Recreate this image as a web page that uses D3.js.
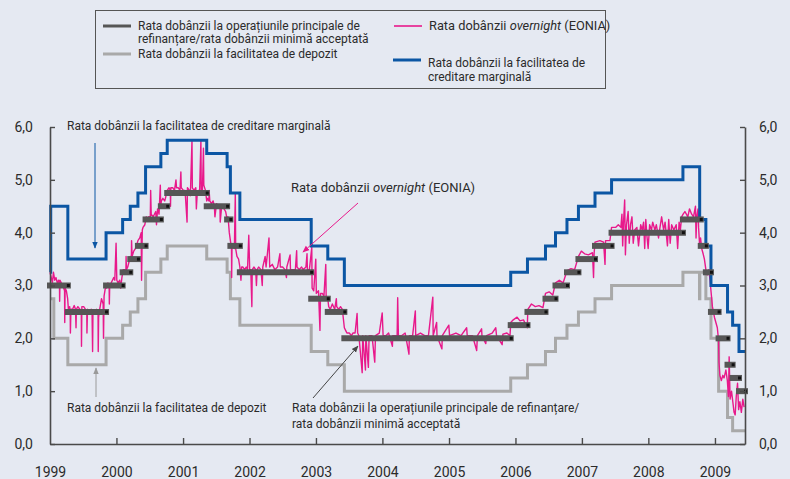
<!DOCTYPE html>
<html lang="ro">
<head>
<meta charset="utf-8">
<title>Rate ale dobânzii BCE</title>
<style>
  body { margin: 0; background: #e5e9f2; font-family: Roboto, "Noto Sans", sans-serif; }
  svg text { fill: #2b2b2b; }
</style>
<script src="https://d3js.org/d3.v7.min.js"></script>
</head>
<body>
<div id="chart"></div>
<script>
// rata dobanzii la operatiunile principale de refinantare (de la data, rata)
const mroRate = [
  ["1999-01-01", 3.00], ["1999-04-09", 2.50], ["1999-11-05", 3.00], ["2000-02-04", 3.25],
  ["2000-03-17", 3.50], ["2000-04-28", 3.75], ["2000-06-09", 4.25], ["2000-09-01", 4.50],
  ["2000-10-06", 4.75], ["2001-05-11", 4.50], ["2001-08-31", 4.25], ["2001-09-18", 3.75],
  ["2001-11-09", 3.25], ["2002-12-06", 2.75], ["2003-03-07", 2.50], ["2003-06-06", 2.00],
  ["2005-12-06", 2.25], ["2006-03-08", 2.50], ["2006-06-15", 2.75], ["2006-08-09", 3.00],
  ["2006-10-11", 3.25], ["2006-12-13", 3.50], ["2007-03-14", 3.75], ["2007-06-13", 4.00],
  ["2008-07-09", 4.25], ["2008-10-15", 3.75], ["2008-11-12", 3.25], ["2008-12-10", 2.50],
  ["2009-01-21", 2.00], ["2009-03-11", 1.50], ["2009-04-08", 1.25], ["2009-05-13", 1.00]
];

// facilitatea de depozit
const depositRate = [
  ["1999-01-01", 2.75], ["1999-01-22", 2.00], ["1999-04-09", 1.50], ["1999-11-05", 2.00],
  ["2000-02-04", 2.25], ["2000-03-17", 2.50], ["2000-04-28", 2.75], ["2000-06-09", 3.25],
  ["2000-09-01", 3.50], ["2000-10-06", 3.75], ["2001-05-11", 3.50], ["2001-08-31", 3.25],
  ["2001-09-18", 2.75], ["2001-11-09", 2.25], ["2002-12-06", 1.75], ["2003-03-07", 1.50],
  ["2003-06-06", 1.00], ["2005-12-06", 1.25], ["2006-03-08", 1.50], ["2006-06-15", 1.75],
  ["2006-08-09", 2.00], ["2006-10-11", 2.25], ["2006-12-13", 2.50], ["2007-03-14", 2.75],
  ["2007-06-13", 3.00], ["2008-07-09", 3.25], ["2008-10-08", 2.75], ["2008-10-10", 3.25],
  ["2008-11-12", 2.75], ["2008-12-10", 2.00], ["2009-01-21", 1.00], ["2009-03-11", 0.50],
  ["2009-04-08", 0.25]
];

// facilitatea de creditare marginala
const marginalRate = [
  ["1999-01-01", 3.25], ["1999-01-05", 4.50], ["1999-04-09", 3.50], ["1999-11-05", 4.00],
  ["2000-02-04", 4.25], ["2000-03-17", 4.50], ["2000-04-28", 4.75], ["2000-06-09", 5.25],
  ["2000-09-01", 5.50], ["2000-10-06", 5.75], ["2001-05-11", 5.50], ["2001-08-31", 5.25],
  ["2001-09-18", 4.75], ["2001-11-09", 4.25], ["2002-12-06", 3.75], ["2003-03-07", 3.50],
  ["2003-06-06", 3.00], ["2005-12-06", 3.25], ["2006-03-08", 3.50], ["2006-06-15", 3.75],
  ["2006-08-09", 4.00], ["2006-10-11", 4.25], ["2006-12-13", 4.50], ["2007-03-14", 4.75],
  ["2007-06-13", 5.00], ["2008-07-09", 5.25], ["2008-10-09", 4.25], ["2008-11-12", 3.75],
  ["2008-12-10", 3.00], ["2009-03-11", 2.50], ["2009-04-08", 2.25], ["2009-05-13", 1.75]
];

// EONIA
const eonia = [
  ["1999-01-01", 3.25], ["1999-01-08", 3.15], ["1999-01-14", 3.05], ["1999-01-20", 3.25], ["1999-01-27", 3.10],
  ["1999-02-03", 3.15], ["1999-02-10", 3.05], ["1999-02-17", 3.10], ["1999-02-22", 3.00], ["1999-02-23", 2.70],
  ["1999-02-25", 3.10], ["1999-03-04", 3.05], ["1999-03-11", 3.00], ["1999-03-17", 2.95], ["1999-03-22", 2.90],
  ["1999-03-23", 2.30], ["1999-03-25", 2.95], ["1999-04-01", 2.90], ["1999-04-08", 2.75], ["1999-04-12", 2.55],
  ["1999-04-19", 2.60], ["1999-04-22", 2.50], ["1999-04-23", 2.10], ["1999-04-26", 2.55], ["1999-05-05", 2.55],
  ["1999-05-14", 2.62], ["1999-05-21", 2.55], ["1999-05-24", 2.20], ["1999-05-26", 2.55], ["1999-06-03", 2.60],
  ["1999-06-14", 2.55], ["1999-06-22", 2.50], ["1999-06-23", 1.85], ["1999-06-25", 2.60], ["1999-07-05", 2.60],
  ["1999-07-15", 2.55], ["1999-07-22", 2.50], ["1999-07-23", 2.10], ["1999-07-26", 2.55], ["1999-08-05", 2.50],
  ["1999-08-16", 2.55], ["1999-08-20", 2.50], ["1999-08-23", 1.75], ["1999-08-25", 2.50], ["1999-09-03", 2.50],
  ["1999-09-13", 2.55], ["1999-09-22", 2.45], ["1999-09-23", 1.75], ["1999-09-25", 2.40], ["1999-10-01", 2.55],
  ["1999-10-11", 2.75], ["1999-10-20", 2.65], ["1999-10-22", 2.00], ["1999-10-25", 2.80], ["1999-11-01", 2.95],
  ["1999-11-08", 2.95], ["1999-11-15", 3.05], ["1999-11-22", 2.95], ["1999-11-23", 2.65], ["1999-11-25", 3.00],
  ["1999-12-03", 3.05], ["1999-12-10", 3.10], ["1999-12-17", 3.15], ["1999-12-23", 3.10], ["1999-12-30", 3.80],
  ["2000-01-03", 3.10], ["2000-01-10", 3.05], ["2000-01-19", 3.10], ["2000-01-24", 2.95], ["2000-01-31", 3.15],
  ["2000-02-07", 3.30], ["2000-02-15", 3.30], ["2000-02-22", 3.25], ["2000-02-23", 3.55], ["2000-02-25", 3.30],
  ["2000-03-03", 3.35], ["2000-03-10", 3.45], ["2000-03-17", 3.55], ["2000-03-23", 3.50], ["2000-03-24", 3.85],
  ["2000-03-27", 3.55], ["2000-04-05", 3.65], ["2000-04-14", 3.70], ["2000-04-20", 3.75], ["2000-04-28", 3.85],
  ["2000-05-08", 3.90], ["2000-05-16", 4.00], ["2000-05-18", 3.10], ["2000-05-22", 4.05], ["2000-05-26", 4.10],
  ["2000-06-05", 4.15], ["2000-06-13", 4.30], ["2000-06-21", 4.25], ["2000-06-26", 4.30], ["2000-07-05", 4.30],
  ["2000-07-07", 4.80], ["2000-07-10", 4.35], ["2000-07-21", 4.30], ["2000-08-04", 4.40], ["2000-08-08", 4.15],
  ["2000-08-14", 4.45], ["2000-08-22", 4.35], ["2000-08-29", 4.90], ["2000-08-31", 4.50], ["2000-09-04", 4.60],
  ["2000-09-12", 4.65], ["2000-09-22", 4.60], ["2000-09-26", 4.65], ["2000-10-06", 4.80], ["2000-10-16", 4.85],
  ["2000-10-23", 4.80], ["2000-10-24", 4.50], ["2000-10-26", 4.85], ["2000-11-06", 4.85], ["2000-11-15", 4.80],
  ["2000-11-23", 5.00], ["2000-11-26", 4.85], ["2000-12-06", 4.85], ["2000-12-15", 4.80], ["2000-12-20", 5.15],
  ["2000-12-22", 4.85], ["2001-01-03", 4.80], ["2001-01-12", 4.80], ["2001-01-23", 4.20], ["2001-01-25", 4.85],
  ["2001-02-05", 4.80], ["2001-02-10", 4.70], ["2001-02-19", 5.75], ["2001-02-21", 4.85], ["2001-03-02", 4.80],
  ["2001-03-12", 4.85], ["2001-03-15", 4.45], ["2001-03-20", 4.75], ["2001-03-26", 4.80], ["2001-04-02", 4.80],
  ["2001-04-09", 5.75], ["2001-04-11", 4.80], ["2001-04-17", 4.75], ["2001-04-23", 5.60], ["2001-04-25", 4.90],
  ["2001-05-04", 4.80], ["2001-05-11", 4.60], ["2001-05-15", 4.65], ["2001-05-23", 4.60], ["2001-05-24", 4.80],
  ["2001-05-28", 4.60], ["2001-06-06", 4.55], ["2001-06-15", 4.60], ["2001-06-22", 4.50], ["2001-06-25", 4.30],
  ["2001-07-04", 4.55], ["2001-07-13", 4.50], ["2001-07-23", 4.45], ["2001-07-24", 4.20], ["2001-08-01", 4.50],
  ["2001-08-14", 4.45], ["2001-08-23", 4.40], ["2001-08-31", 4.25], ["2001-09-05", 4.30], ["2001-09-12", 4.00],
  ["2001-09-18", 3.85], ["2001-09-24", 3.70], ["2001-09-25", 3.15], ["2001-09-27", 3.75], ["2001-10-10", 3.70],
  ["2001-10-15", 4.75], ["2001-10-17", 3.70], ["2001-10-24", 3.55], ["2001-11-02", 3.50], ["2001-11-09", 3.35],
  ["2001-11-15", 3.10], ["2001-11-19", 3.35], ["2001-11-26", 3.35], ["2001-12-05", 3.30], ["2001-12-14", 3.35],
  ["2001-12-21", 3.30], ["2001-12-28", 3.95], ["2002-01-02", 3.30], ["2002-01-08", 3.30], ["2002-01-14", 2.60],
  ["2002-01-16", 3.30], ["2002-01-25", 3.35], ["2002-02-04", 3.30], ["2002-02-08", 3.00], ["2002-02-12", 3.30],
  ["2002-02-20", 3.35], ["2002-03-05", 3.30], ["2002-03-12", 3.00], ["2002-03-15", 3.35], ["2002-03-28", 3.55],
  ["2002-04-02", 3.35], ["2002-04-18", 3.90], ["2002-04-22", 3.35], ["2002-05-06", 3.40], ["2002-05-20", 3.30],
  ["2002-06-04", 3.35], ["2002-06-17", 3.60], ["2002-06-19", 3.35], ["2002-07-02", 3.35], ["2002-07-15", 3.30],
  ["2002-07-23", 3.15], ["2002-07-25", 3.35], ["2002-08-12", 3.58], ["2002-08-14", 3.30], ["2002-09-10", 3.30],
  ["2002-09-17", 3.66], ["2002-09-19", 3.35], ["2002-10-01", 3.30], ["2002-10-14", 3.35], ["2002-10-23", 3.30],
  ["2002-11-07", 3.35], ["2002-11-13", 3.60], ["2002-11-15", 3.30], ["2002-11-26", 3.30], ["2002-12-09", 3.72],
  ["2002-12-11", 2.95], ["2002-12-20", 2.90], ["2002-12-31", 3.50], ["2003-01-03", 2.85], ["2003-01-15", 2.90],
  ["2003-01-23", 2.15], ["2003-01-26", 2.85], ["2003-02-05", 2.85], ["2003-02-14", 2.80], ["2003-02-24", 3.40],
  ["2003-02-26", 2.80], ["2003-03-07", 2.75], ["2003-03-12", 2.60], ["2003-03-21", 2.55], ["2003-04-01", 2.65],
  ["2003-04-14", 2.55], ["2003-04-23", 2.75], ["2003-04-25", 2.60], ["2003-05-06", 2.55], ["2003-05-16", 2.60],
  ["2003-05-26", 2.55], ["2003-06-06", 2.20], ["2003-06-13", 2.15], ["2003-06-20", 2.10], ["2003-07-03", 2.10],
  ["2003-07-15", 2.05], ["2003-07-23", 2.10], ["2003-08-04", 2.10], ["2003-08-15", 2.47], ["2003-08-18", 2.10],
  ["2003-08-25", 2.05], ["2003-09-12", 1.35], ["2003-09-15", 2.05], ["2003-09-30", 1.40], ["2003-10-02", 2.05],
  ["2003-10-16", 1.45], ["2003-10-20", 2.05], ["2003-11-05", 2.05], ["2003-11-20", 1.55], ["2003-11-24", 2.05],
  ["2003-12-15", 2.10], ["2003-12-31", 2.48], ["2004-01-05", 2.05], ["2004-01-20", 2.05], ["2004-02-04", 2.10],
  ["2004-02-25", 1.85], ["2004-02-27", 2.05], ["2004-03-22", 2.05], ["2004-03-25", 2.77], ["2004-03-29", 2.05],
  ["2004-04-15", 2.05], ["2004-05-05", 2.10], ["2004-05-26", 1.70], ["2004-05-28", 2.05], ["2004-06-15", 2.05],
  ["2004-06-30", 2.52], ["2004-07-02", 2.05], ["2004-07-28", 2.10], ["2004-08-20", 2.05], ["2004-09-10", 2.05],
  ["2004-10-04", 2.78], ["2004-10-06", 2.05], ["2004-10-25", 2.30], ["2004-10-27", 2.05], ["2004-11-23", 1.80],
  ["2004-11-25", 2.05], ["2004-12-31", 2.25], ["2005-01-04", 2.05], ["2005-02-08", 2.10], ["2005-03-08", 2.05],
  ["2005-04-08", 2.20], ["2005-04-11", 2.05], ["2005-05-10", 2.05], ["2005-06-02", 1.77], ["2005-06-06", 2.05],
  ["2005-06-29", 2.18], ["2005-07-01", 2.05], ["2005-07-22", 1.90], ["2005-07-26", 2.05], ["2005-08-26", 2.10],
  ["2005-09-15", 2.20], ["2005-09-19", 2.05], ["2005-10-20", 1.88], ["2005-10-24", 2.08], ["2005-11-15", 2.10],
  ["2005-12-02", 2.05], ["2005-12-06", 2.30], ["2005-12-20", 2.35], ["2006-01-10", 2.40], ["2006-01-26", 2.33],
  ["2006-02-14", 2.35], ["2006-03-07", 2.20], ["2006-03-10", 2.55], ["2006-03-30", 2.65], ["2006-04-20", 2.60],
  ["2006-05-10", 2.62], ["2006-06-01", 2.58], ["2006-06-15", 2.85], ["2006-07-05", 2.88], ["2006-07-25", 2.82],
  ["2006-08-09", 3.05], ["2006-08-30", 3.10], ["2006-09-20", 3.05], ["2006-10-11", 3.28], ["2006-11-02", 3.32],
  ["2006-11-22", 3.30], ["2006-12-13", 3.55], ["2006-12-29", 3.65], ["2007-01-16", 3.60], ["2007-02-06", 3.58],
  ["2007-02-28", 3.62], ["2007-03-06", 3.15], ["2007-03-09", 3.60], ["2007-03-14", 3.82], ["2007-04-10", 3.85],
  ["2007-04-30", 3.82], ["2007-05-08", 3.40], ["2007-05-11", 3.85], ["2007-06-04", 3.85], ["2007-06-13", 4.10],
  ["2007-07-05", 4.10], ["2007-07-20", 4.15], ["2007-08-03", 4.10], ["2007-08-09", 4.35], ["2007-08-13", 3.75],
  ["2007-08-17", 4.15], ["2007-08-24", 4.62], ["2007-08-28", 3.58], ["2007-09-03", 4.15], ["2007-09-12", 4.40],
  ["2007-09-18", 3.80], ["2007-09-25", 4.15], ["2007-10-03", 4.30], ["2007-10-10", 3.80], ["2007-10-18", 4.05],
  ["2007-10-30", 4.10], ["2007-11-08", 3.75], ["2007-11-20", 4.15], ["2007-11-28", 4.05], ["2007-12-06", 4.20],
  ["2007-12-12", 3.70], ["2007-12-18", 4.25], ["2007-12-24", 3.95], ["2007-12-31", 3.70], ["2008-01-08", 4.15],
  ["2008-01-18", 4.05], ["2008-01-25", 4.20], ["2008-02-06", 4.05], ["2008-02-14", 4.15], ["2008-02-26", 3.90],
  ["2008-03-05", 4.10], ["2008-03-14", 4.30], ["2008-03-25", 4.05], ["2008-04-02", 4.20], ["2008-04-15", 3.75],
  ["2008-04-22", 4.25], ["2008-04-30", 3.80], ["2008-05-08", 4.15], ["2008-05-20", 4.05], ["2008-06-02", 4.15],
  ["2008-06-10", 3.70], ["2008-06-18", 4.20], ["2008-06-25", 4.05], ["2008-07-02", 4.30], ["2008-07-10", 4.35],
  ["2008-07-20", 4.40], ["2008-08-05", 4.30], ["2008-08-14", 4.45], ["2008-08-26", 4.35], ["2008-09-05", 4.30],
  ["2008-09-16", 4.50], ["2008-09-19", 3.90], ["2008-09-23", 4.30], ["2008-09-30", 4.45], ["2008-10-03", 4.10],
  ["2008-10-08", 3.80], ["2008-10-14", 3.90], ["2008-10-20", 3.70], ["2008-10-28", 3.60], ["2008-11-04", 3.50],
  ["2008-11-12", 3.30], ["2008-11-20", 3.20], ["2008-11-28", 3.30], ["2008-12-05", 3.10], ["2008-12-10", 2.90],
  ["2008-12-18", 2.60], ["2008-12-29", 2.40], ["2009-01-06", 2.30], ["2009-01-14", 2.20], ["2009-01-21", 1.95],
  ["2009-01-23", 1.55], ["2009-01-28", 1.30], ["2009-02-05", 1.20], ["2009-02-13", 1.30], ["2009-02-20", 1.25],
  ["2009-03-02", 1.40], ["2009-03-10", 1.20], ["2009-03-16", 0.90], ["2009-03-20", 1.65], ["2009-03-25", 0.85],
  ["2009-04-02", 1.00], ["2009-04-09", 0.80], ["2009-04-16", 0.60], ["2009-04-22", 0.55], ["2009-04-28", 0.90],
  ["2009-05-05", 1.15], ["2009-05-11", 0.65], ["2009-05-18", 0.80], ["2009-05-26", 0.60], ["2009-06-03", 0.85],
  ["2009-06-10", 0.70]
];

const startDate = "1999-01-01";
const endDate = "2009-06-15";
const yTicks = [0, 1, 2, 3, 4, 5, 6];
const yearTicks = [1999, 2000, 2001, 2002, 2003, 2004, 2005, 2006, 2007, 2008, 2009];

const width = 790, height = 479;
const margin = {top: 127, right: 45, bottom: 35, left: 50};
const parse = d3.timeParse("%Y-%m-%d");
const fmt = v => d3.format(".1f")(v).replace(".", ",");

const svg = d3.select("#chart").append("svg")
    .attr("width", width)
    .attr("height", height);

svg.append("rect").attr("width", width).attr("height", height).attr("fill", "#e5e9f2");

const x = d3.scaleTime()
    .domain([parse(startDate), parse(endDate)])
    .range([margin.left, width - margin.right]);
const y = d3.scaleLinear()
    .domain([0, 6])
    .range([height - margin.bottom, margin.top]);

// step series extended to the end of the axis
function steps(arr) {
    const pts = arr.map(d => [parse(d[0]), d[1]]);
    pts.push([parse(endDate), arr[arr.length - 1][1]]);
    return pts;
}
const stepLine = d3.line()
    .x(d => x(d[0]))
    .y(d => y(d[1]))
    .curve(d3.curveStepAfter);

svg.append("path")
    .attr("d", stepLine(steps(depositRate)))
    .attr("fill", "none")
    .attr("stroke", "#a9a9a9")
    .attr("stroke-width", 3);

svg.append("path")
    .attr("d", d3.line().x(d => x(parse(d[0]))).y(d => y(d[1]))(eonia))
    .attr("fill", "none")
    .attr("stroke", "#e8198b")
    .attr("stroke-width", 1.4)
    .attr("stroke-linejoin", "round");

svg.append("path")
    .attr("d", stepLine(steps(marginalRate)))
    .attr("fill", "none")
    .attr("stroke", "#0b56a4")
    .attr("stroke-width", 3);

// segmente pentru rata de refinantare
const mroSegs = mroRate.map((d, i) => ({
    x0: parse(d[0]),
    x1: i < mroRate.length - 1 ? parse(mroRate[i + 1][0]) : parse(endDate),
    v: d[1]
}));

svg.selectAll(".mro")
    .data(mroSegs)
    .enter()
    .append("line")
    .attr("class", "mro")
    .attr("x1", d => x(d.x0))
    .attr("x2", d => x(d.x1))
    .attr("y1", d => y(d.v))
    .attr("y2", d => y(d.v))
    .attr("stroke", "#565656")
    .attr("stroke-width", 6)
    .attr("stroke-linecap", "square");

svg.selectAll(".mro-dot")
    .data(mroSegs)
    .enter()
    .append("rect")
    .attr("class", "mro-dot")
    .attr("x", d => x(d.x1) - 1)
    .attr("y", d => y(d.v) - 1.5)
    .attr("width", 3)
    .attr("height", 3)
    .attr("fill", "#111");

// axe
const axisColor = "#4a4a4a";
const yLeft = svg.append("g")
    .attr("transform", `translate(${margin.left},0)`)
    .call(d3.axisLeft(y).tickValues(yTicks).tickFormat(fmt).tickSize(-5).tickSizeOuter(0).tickPadding(17));
const yRight = svg.append("g")
    .attr("transform", `translate(${width - margin.right},0)`)
    .call(d3.axisRight(y).tickValues(yTicks).tickFormat(fmt).tickSize(-5).tickSizeOuter(0).tickPadding(14));
const xAxis = svg.append("g")
    .attr("transform", `translate(0,${height - margin.bottom})`)
    .call(d3.axisBottom(x)
        .tickValues(yearTicks.map(yr => new Date(yr, 0, 1)))
        .tickFormat(d3.timeFormat("%Y"))
        .tickSize(-6).tickSizeOuter(0).tickPadding(23));

[yLeft, yRight, xAxis].forEach(g => {
    g.select(".domain").attr("stroke", axisColor).attr("stroke-width", 1.6);
    g.selectAll(".tick line").attr("stroke", axisColor).attr("stroke-width", 1.4);
    g.selectAll(".tick text").attr("font-size", 14).attr("font-family", "Roboto, sans-serif").attr("fill", "#2b2b2b");
});
xAxis.selectAll(".tick").filter(d => d.getFullYear() === 1999).select("line").remove();

// adnotari
const defs = svg.append("defs");
function marker(id, color) {
    defs.append("marker")
        .attr("id", id)
        .attr("viewBox", "0 0 10 10")
        .attr("refX", 9).attr("refY", 5)
        .attr("markerWidth", 7).attr("markerHeight", 7)
        .attr("orient", "auto")
        .append("path").attr("d", "M0,1 L10,5 L0,9 Z").attr("fill", color);
}
marker("a-blue", "#0b56a4");
marker("a-gray", "#9a9a9a");
marker("a-dark", "#444");
marker("a-pink", "#e8198b");

function arrow(x1, y1, x2, y2, color, id) {
    svg.append("line")
        .attr("x1", x1).attr("y1", y1).attr("x2", x2).attr("y2", y2)
        .attr("stroke", color).attr("stroke-width", 1)
        .attr("marker-end", `url(#${id})`);
}
arrow(95, 143, 95, 248, "#0b56a4", "a-blue");
arrow(96, 397, 96, 368, "#9a9a9a", "a-gray");
arrow(313, 398, 358, 346, "#444", "a-dark");
arrow(358, 203, 303, 252, "#e8198b", "a-pink");

const note = svg.append("g").attr("font-size", 12);
note.append("text").attr("x", 67).attr("y", 130).text("Rata dobânzii la facilitatea de creditare marginală");
const on = note.append("text").attr("x", 291).attr("y", 192).attr("font-size", 13);
on.append("tspan").text("Rata dobânzii ");
on.append("tspan").attr("font-style", "italic").text("overnight");
on.append("tspan").text(" (EONIA)");
note.append("text").attr("x", 67).attr("y", 412).text("Rata dobânzii la facilitatea de depozit");
note.append("text").attr("x", 292).attr("y", 412).text("Rata dobânzii la operațiunile principale de refinanțare/");
note.append("text").attr("x", 292).attr("y", 428).text("rata dobânzii minimă acceptată");

// legenda
const lg = svg.append("g").attr("font-size", 12);
lg.append("rect")
    .attr("x", 95.5).attr("y", 10.5).attr("width", 510).attr("height", 78)
    .attr("fill", "none").attr("stroke", "#555").attr("stroke-width", 1);

const legendItems = [
    {x: 103, y: 26, color: "#565656", w: 3, lines: ["Rata dobânzii la operațiunile principale de", "refinanțare/rata dobânzii minimă acceptată"], ty: 30, dy: 13},
    {x: 103, y: 54, color: "#a9a9a9", w: 3, lines: ["Rata dobânzii la facilitatea de depozit"], ty: 58, dy: 13},
    {x: 393, y: 60, color: "#0b56a4", w: 3, lines: ["Rata dobânzii la facilitatea de", "creditare marginală"], ty: 67, dy: 13.5}
];
legendItems.forEach(it => {
    lg.append("line")
        .attr("x1", it.x).attr("x2", it.x + 28)
        .attr("y1", it.y).attr("y2", it.y)
        .attr("stroke", it.color).attr("stroke-width", it.w);
    it.lines.forEach((t, i) => {
        lg.append("text").attr("x", it.x + 35).attr("y", it.ty + i * it.dy).text(t);
    });
});
lg.append("line")
    .attr("x1", 394).attr("x2", 422).attr("y1", 26).attr("y2", 26)
    .attr("stroke", "#e8198b").attr("stroke-width", 1.6);
const lo = lg.append("text").attr("x", 429).attr("y", 30).attr("font-size", 12.8);
lo.append("tspan").text("Rata dobânzii ");
lo.append("tspan").attr("font-style", "italic").text("overnight");
lo.append("tspan").text(" (EONIA)");
</script>
</body>
</html>
